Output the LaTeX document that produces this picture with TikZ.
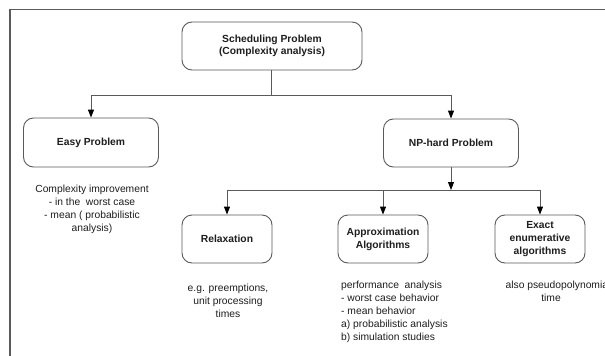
\documentclass[tikz,border=0pt]{standalone}
\usepackage{fontspec}
\setmainfont{Liberation Sans}
\usetikzlibrary{arrows.meta}
\definecolor{linegray}{HTML}{5A5A5A}
\definecolor{textdark}{HTML}{1E1E1E}
\tikzset{
  box/.style={draw=linegray, line width=0.9pt, rounded corners=10pt, inner sep=0pt,
    align=center, font=\bfseries\fontsize{10.3}{13}\selectfont, text=textdark},
  note/.style={inner sep=0pt, font=\fontsize{10.3}{13}\selectfont, text=textdark},
  conn/.style={draw=linegray, line width=0.9pt},
  arr/.style={conn, -{Triangle[length=8pt,width=6pt,fill=black,color=black]}},
}
\begin{document}
\begin{tikzpicture}[x=1pt,y=-1pt]
\useasboundingbox (0,0) rectangle (605,356);
\fill[white] (0,0) rectangle (605,356);
% frame
\coordinate (fbl) at (10,356);
\coordinate (ftl) at (10,9.5);
\coordinate (ftr) at (605,9.5);
\draw[draw=linegray, line width=1.1pt] (fbl) -- (ftl) -- (ftr);
% boxes
\node[box, minimum width=180pt, minimum height=48pt] (top) at (272,46) {Scheduling Problem\\[-1pt](Complexity analysis)};
\node[box, minimum width=135pt, minimum height=49pt] (easy) at (91,142.5) {Easy Problem};
\node[box, minimum width=135pt, minimum height=48pt] (np) at (451,143) {NP-hard Problem};
\node[box, minimum width=90pt, minimum height=48pt] (relax) at (227,239) {Relaxation};
\node[box, minimum width=90pt, minimum height=48pt] (approx) at (383,239) {Approximation\\Algorithms};
\node[box, minimum width=90pt, minimum height=48pt] (exact) at (540,239) {Exact\\enumerative\\algorithms};
% junctions
\coordinate (j1) at (271,95);
\coordinate (j2) at (451,190);
\draw[conn] (top.south -| j1) -- (j1);
\draw[arr] (j1) -| (easy.north);
\draw[arr] (j1) -| (np.north);
\draw[arr] (np.south) -- (j2);
\draw[arr] (j2) -| (relax.north);
\draw[arr] (j2) -| (approx.north);
\draw[arr] (j2) -| (exact.north);
% notes
\node[note, align=center, anchor=north] (easytxt) at (92,185) {Complexity improvement\\- in the\ \ worst case\\- mean ( probabilistic\\analysis)};
\node[note, align=center, anchor=north] (relaxtxt) at (228,284) {e.g. preemptions,\\unit processing\\times};
\node[note, align=left, anchor=north west] (approxtxt) at (341,281) {performance\ \ analysis\\- worst case behavior\\- mean behavior\\a) probabilistic analysis\\b) simulation studies};
\node[note, align=center, anchor=north] (exacttxt) at (558,281) {also pseudopolynomial\\time\hspace*{14pt}};
\end{tikzpicture}
\end{document}
